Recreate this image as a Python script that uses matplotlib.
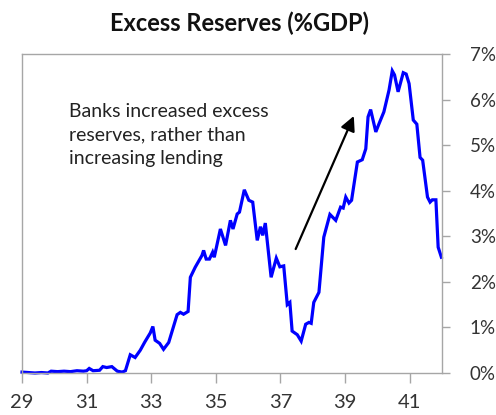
import matplotlib
matplotlib.use("Agg")
import matplotlib.pyplot as plt

# excess reserves, % of GDP
years = [1929.0, 1929.2, 1929.4, 1929.6, 1929.8, 1929.9, 1930.1, 1930.3, 1930.5, 1930.7,
         1930.9, 1931.0, 1931.08, 1931.2, 1931.4, 1931.5, 1931.62, 1931.78, 1931.95, 1932.1,
         1932.2, 1932.35, 1932.5, 1932.66, 1932.8, 1932.97, 1933.05, 1933.12, 1933.26, 1933.38,
         1933.54, 1933.8, 1933.9, 1934.0, 1934.14, 1934.21, 1934.36, 1934.57, 1934.62, 1934.7,
         1934.8, 1934.9, 1934.95, 1935.14, 1935.3, 1935.45, 1935.53, 1935.66, 1935.73, 1935.88,
         1936.02, 1936.14, 1936.28, 1936.38, 1936.45, 1936.53, 1936.71, 1936.87, 1936.98, 1937.1,
         1937.21, 1937.29, 1937.36, 1937.52, 1937.64, 1937.78, 1937.88, 1937.95, 1938.03, 1938.19,
         1938.34, 1938.53, 1938.71, 1938.86, 1938.94, 1939.02, 1939.12, 1939.2, 1939.38, 1939.53,
         1939.64, 1939.71, 1939.79, 1939.95, 1940.05, 1940.2, 1940.36, 1940.46, 1940.53, 1940.64,
         1940.8, 1940.89, 1940.98, 1941.11, 1941.22, 1941.32, 1941.4, 1941.55, 1941.63, 1941.7,
         1941.81, 1941.88, 1941.98]
reserves = [0.02, 0.01, 0.0, 0.01, 0.0, 0.04, 0.03, 0.04, 0.03, 0.05,
            0.04, 0.05, 0.1, 0.05, 0.06, 0.14, 0.12, 0.14, 0.04, 0.02,
            0.05, 0.4, 0.34, 0.5, 0.68, 0.88, 1.02, 0.72, 0.65, 0.52,
            0.67, 1.28, 1.33, 1.29, 1.35, 2.1, 2.32, 2.58, 2.69, 2.5,
            2.5, 2.65, 2.54, 3.16, 2.8, 3.35, 3.16, 3.49, 3.53, 4.02,
            3.79, 3.75, 2.91, 3.21, 3.02, 3.29, 2.1, 2.52, 2.33, 2.35,
            1.5, 1.55, 0.92, 0.84, 0.7, 1.07, 1.11, 1.09, 1.55, 1.77,
            2.98, 3.48, 3.35, 3.64, 3.62, 3.86, 3.73, 3.79, 4.63, 4.68,
            4.92, 5.62, 5.78, 5.29, 5.47, 5.73, 6.21, 6.63, 6.54, 6.17,
            6.59, 6.56, 6.35, 5.55, 5.46, 4.73, 4.67, 3.86, 3.75, 3.8,
            3.8, 2.76, 2.54]

xticks = [29, 31, 33, 35, 37, 39, 41]
yticks = [0, 1, 2, 3, 4, 5, 6, 7]

plt.rcParams['font.family'] = ['Lato', 'DejaVu Sans']

fig = plt.figure(figsize=(4.96, 4.15), dpi=100)
ax = fig.add_axes([0.0444, 0.1012, 0.8468, 0.7687])

ax.plot([y - 1900 for y in years], reserves, color='#0000ff', lw=2.3, clip_on=False,
        solid_joinstyle='miter')

ax.set_xlim(29, 42)
ax.set_ylim(0, 7)
ax.set_xticks(xticks)
ax.set_xticklabels([str(t) for t in xticks])
ax.set_yticks(yticks)
ax.set_yticklabels([f"{t}%" for t in yticks])
ax.yaxis.tick_right()

for s in ax.spines.values():
    s.set_color('#a6a6a6')
    s.set_linewidth(1)
ax.tick_params(axis='x', direction='out', length=7, width=1, color='#a6a6a6',
               labelsize=14.5, labelcolor='#333333', pad=8)
ax.tick_params(axis='y', direction='out', length=6, width=1, color='#a6a6a6',
               labelsize=13.5, labelcolor='#333333', pad=14)

ax.text(30.46, 5.92, "Banks increased excess\nreserves, rather than\nincreasing lending",
        fontsize=14, color='#222222', va='top', ha='left', linespacing=1.45)

ax.annotate("", xy=(39.27, 5.64), xytext=(37.47, 2.72),
            arrowprops=dict(arrowstyle='-|>', color='black', lw=1.6, mutation_scale=22,
                            shrinkA=0, shrinkB=0))

fig.text(0.483, 0.945, "Excess Reserves (%GDP)", fontsize=17, fontweight='bold',
         ha='center', va='center', color='#111111')

fig.savefig("out.png", dpi=100)
